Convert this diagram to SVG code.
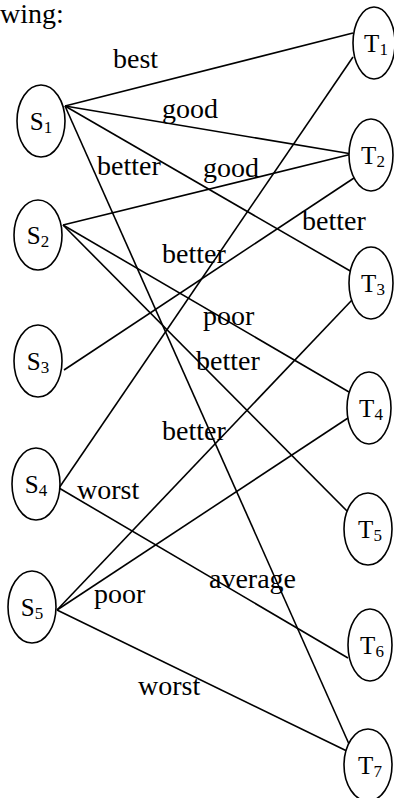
<svg xmlns="http://www.w3.org/2000/svg" width="394" height="798" viewBox="0 0 394 798">
<style>
.n{fill:#fff;stroke:#000;stroke-width:1.6}
.e{stroke:#000;stroke-width:1.6;fill:none}
.t{font-size:28px;fill:#000}
.nl{font-size:25px;fill:#000;text-anchor:middle}
.sub{font-size:17px}
</style>
<rect width="394" height="798" fill="#fff"/>
<g font-family="'Liberation Serif', 'DejaVu Serif', serif">
<text class="t" x="0" y="23">wing:</text>
<g id="connectors">
<line class="e" x1="65" y1="106" x2="353" y2="33"/>
<line class="e" x1="65" y1="106" x2="352" y2="154"/>
<line class="e" x1="65" y1="106" x2="352" y2="272"/>
<line class="e" x1="65" y1="106" x2="353" y2="753"/>
<line class="e" x1="63" y1="225" x2="352" y2="154"/>
<line class="e" x1="63" y1="225" x2="349" y2="392"/>
<line class="e" x1="63" y1="225" x2="347" y2="511"/>
<line class="e" x1="64" y1="370" x2="354" y2="178"/>
<line class="e" x1="59" y1="488" x2="353" y2="57"/>
<line class="e" x1="59" y1="488" x2="348" y2="658"/>
<line class="e" x1="57" y1="610" x2="352" y2="300"/>
<line class="e" x1="57" y1="610" x2="348" y2="418"/>
<line class="e" x1="57" y1="610" x2="353" y2="754"/>
</g>
<g id="edge-labels">
<text class="t" x="113" y="68">best</text>
<text class="t" x="162" y="118">good</text>
<text class="t" x="97" y="175">better</text>
<text class="t" x="203" y="177">good</text>
<text class="t" x="302" y="230">better</text>
<text class="t" x="162" y="263">better</text>
<text class="t" x="203" y="325">poor</text>
<text class="t" x="196" y="370">better</text>
<text class="t" x="162" y="440">better</text>
<text class="t" x="77" y="499">worst</text>
<text class="t" x="209" y="588">average</text>
<text class="t" x="94" y="603">poor</text>
<text class="t" x="138" y="695">worst</text>
</g>
<g id="S1"><ellipse class="n" cx="41" cy="121" rx="24" ry="36"/><text class="nl" x="41" y="130">S<tspan class="sub" dy="3">1</tspan></text></g>
<g id="S2"><ellipse class="n" cx="38" cy="235" rx="24" ry="35"/><text class="nl" x="38" y="244">S<tspan class="sub" dy="3">2</tspan></text></g>
<g id="S3"><ellipse class="n" cx="38" cy="361" rx="24" ry="36"/><text class="nl" x="38" y="370">S<tspan class="sub" dy="3">3</tspan></text></g>
<g id="S4"><ellipse class="n" cx="36" cy="484" rx="24" ry="36"/><text class="nl" x="36" y="493">S<tspan class="sub" dy="3">4</tspan></text></g>
<g id="S5"><ellipse class="n" cx="32" cy="607" rx="24" ry="36"/><text class="nl" x="32" y="616">S<tspan class="sub" dy="3">5</tspan></text></g>
<g id="T1"><ellipse class="n" cx="374" cy="43" rx="21" ry="36"/><text class="nl" x="376" y="52">T<tspan class="sub" dy="3">1</tspan></text></g>
<g id="T2"><ellipse class="n" cx="371" cy="155" rx="22" ry="36"/><text class="nl" x="373" y="164">T<tspan class="sub" dy="3">2</tspan></text></g>
<g id="T3"><ellipse class="n" cx="371" cy="283" rx="22" ry="36"/><text class="nl" x="373" y="292">T<tspan class="sub" dy="3">3</tspan></text></g>
<g id="T4"><ellipse class="n" cx="369" cy="408" rx="22" ry="36"/><text class="nl" x="371" y="417">T<tspan class="sub" dy="3">4</tspan></text></g>
<g id="T5"><ellipse class="n" cx="368" cy="529" rx="24" ry="36"/><text class="nl" x="370" y="538">T<tspan class="sub" dy="3">5</tspan></text></g>
<g id="T6"><ellipse class="n" cx="370" cy="645" rx="22" ry="36"/><text class="nl" x="372" y="654">T<tspan class="sub" dy="3">6</tspan></text></g>
<g id="T7"><ellipse class="n" cx="368" cy="765" rx="24" ry="36"/><text class="nl" x="370" y="774">T<tspan class="sub" dy="3">7</tspan></text></g>
</g>
</svg>
